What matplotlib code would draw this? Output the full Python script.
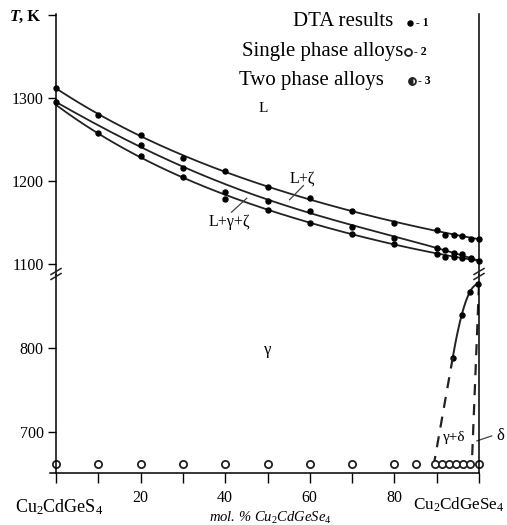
import numpy as np
import matplotlib
matplotlib.use("Agg")
import matplotlib.pyplot as plt
from matplotlib.lines import Line2D

plt.rcParams['font.family'] = ['Liberation Serif', 'DejaVu Serif']
plt.rcParams['mathtext.fontset'] = 'custom'
plt.rcParams['mathtext.rm'] = 'Liberation Serif'
plt.rcParams['mathtext.it'] = 'Liberation Serif:italic'

# ---------------- data ----------------
# liquidus / solidus lines
line_x = [0, 5, 10, 20, 30, 40, 50, 60, 70, 80, 90, 100]
line_A = [1312, 1295, 1280, 1255, 1231, 1211, 1193, 1178, 1164, 1151, 1140, 1130]
line_B = [1296, 1280, 1266, 1242, 1218, 1196, 1177, 1162, 1147, 1133, 1120, 1104]
line_C = [1293, 1272, 1256, 1230, 1205, 1183, 1165, 1150, 1136, 1124, 1113, 1104]

# DTA points
dta_A_x = [0, 10, 20, 30, 40, 50, 60, 70, 80, 90, 92, 94, 96, 98, 100]
dta_A_T = [1312, 1280, 1255, 1228, 1212, 1193, 1180, 1164, 1150, 1141, 1135, 1135, 1134, 1130, 1130]
dta_B_x = [0, 20, 30, 40, 50, 60, 70, 80, 90, 92, 94, 96, 98, 100]
dta_B_T = [1295, 1243, 1216, 1187, 1176, 1164, 1145, 1132, 1120, 1117, 1114, 1112, 1108, 1104]
dta_C_x = [10, 20, 30, 40, 50, 60, 70, 80, 90, 92, 94, 96, 98]
dta_C_T = [1258, 1230, 1205, 1179, 1165, 1150, 1136, 1124, 1112, 1109, 1109, 1107, 1106]

# solvus of gamma (lower part)
solv_x = [93.8, 95.9, 97.9, 99.7]
solv_T = [789, 840, 868, 877]
# dashed boundaries
dash_left_x = [93.8, 89.3]
dash_left_T = [789, 660]
dash_right_x = [100, 98.3]
dash_right_T = [877, 660]

# single phase alloys (annealed)
alloy_x = [0, 10, 20, 30, 40, 50, 60, 70, 80, 85, 89.5, 91.2, 92.9, 94.6, 96.2, 97.9, 100]
alloy_T = [661] * len(alloy_x)

xticks = [0, 10, 20, 30, 40, 50, 60, 70, 80, 90, 100]
xticklabels = ['', '', '20', '', '40', '', '60', '', '80', '', '']

# ---------------- figure ----------------
W, H = 507, 525
fig = plt.figure(figsize=(W / 100, H / 100), dpi=100)

def fx(px):
    return px / W

def fy(py):
    return 1 - py / H

xl, xr = 50.1, 479
ax_u = fig.add_axes([fx(xl), fy(275), (xr - xl) / W, (275 - 14) / H])
ax_l = fig.add_axes([fx(xl), fy(473), (xr - xl) / W, (473 - 275) / H])

lw_sp = 1.1
for ax in (ax_u, ax_l):
    ax.set_xlim(-1.4, 100)
    ax.spines['left'].set_position(('data', 0))
    ax.spines['top'].set_visible(False)
    for s in ax.spines.values():
        s.set_linewidth(lw_sp)
    ax.tick_params(axis='y', direction='out', length=6, width=1, labelsize=11.5, pad=3, right=False)
    ax.patch.set_alpha(0)

ax_u.set_ylim(1087, 1401)
ax_u.spines['bottom'].set_visible(False)
ax_u.set_xticks([])
ax_u.set_yticks([1100, 1200, 1300, 1400])
ax_u.set_yticklabels(['1100', '1200', '1300', ''])

ax_l.set_ylim(650.5, 888)
ax_l.set_yticks([700, 800])
ax_l.set_xticks(xticks)
ax_l.set_xticklabels(xticklabels)
ax_l.tick_params(axis='x', direction='out', length=7, width=1, labelsize=11.5, pad=5)

# curves (smoothed)
xs = np.linspace(0, 100, 300)
for arr in (line_A, line_B, line_C):
    c = np.polyfit(line_x, arr, 4)
    ax_u.plot(xs, np.polyval(c, xs), color='#222222', lw=1.3)

ms = 3.6
ax_u.plot(dta_A_x, dta_A_T, 'o', color='black', ms=ms, clip_on=False)
ax_u.plot(dta_B_x, dta_B_T, 'o', color='black', ms=ms, clip_on=False)
ax_u.plot(dta_C_x, dta_C_T, 'o', color='black', ms=ms, clip_on=False)

# lower part
cs = np.polyfit(solv_x, solv_T, 2)
xs2 = np.linspace(solv_x[0], 100, 100)
ax_l.plot(xs2, np.polyval(cs, xs2), color='#222222', lw=1.4)
ax_l.plot(solv_x, solv_T, 'o', color='black', ms=ms, clip_on=False)
ax_l.plot(dash_left_x, dash_left_T, color='#222222', lw=1.6, dashes=(5, 4))
ax_l.plot(dash_right_x, dash_right_T, color='#222222', lw=1.6, dashes=(5, 4))
ax_l.plot(alloy_x, alloy_T, 'o', mfc='white', mec='#222222', mew=1.3, ms=5.2, clip_on=False)

# region labels
ax_u.text(49, 1287, 'L', fontsize=11, ha='center', va='center')
ax_u.text(58.3, 1203, 'L+ζ', fontsize=11.5, ha='center', va='center')
ax_u.plot([58.5, 55.2], [1194.6, 1177.5], color='#444444', lw=0.9)
ax_u.text(41.1, 1150.7, 'L+γ+ζ', fontsize=11.5, ha='center', va='center')
ax_u.plot([45.1, 41.5], [1179.4, 1162.6], color='#444444', lw=0.9)
ax_l.text(50.1, 798, 'γ', fontsize=12, ha='center', va='center')
ax_l.text(94.1, 692.5, 'γ+δ', fontsize=11, ha='center', va='center')
ax_l.plot([99.5, 103], [689, 695], color='#444444', lw=0.9, clip_on=False)
fig.text(fx(500), fy(436), 'δ', fontsize=12, ha='center', va='center')

# axis title and compound labels
fig.text(fx(10), fy(17), 'T', fontsize=12, fontweight='bold', style='italic', ha='left', va='center')
fig.text(fx(19), fy(17), ', K', fontsize=12, fontweight='bold', ha='left', va='center')
fig.text(fx(59), fy(507), r'Cu$_2$CdGeS$_4$', fontsize=13, ha='center', va='center')
fig.text(fx(505), fy(505), r'Cu$_2$CdGeSe$_4$', fontsize=12.3, ha='right', va='center')
fig.text(fx(270), fy(518), r'mol. % Cu$_2$CdGeSe$_4$', fontsize=10.5, style='italic',
         ha='center', va='center')

# legend
leg = [('DTA results', 393, 22, dict(marker='o', ms=3.6, mfc='black', mec='black'), 410, '- 1'),
       ('Single phase alloys', 403, 51, dict(marker='o', ms=5, mfc='white', mec='#222222', mew=1.3), 408, '- 2'),
       ('Two phase alloys', 384, 80, dict(marker='o', ms=5, fillstyle='left', color='#222222',
                                          markerfacecoloralt='white', mew=1.3), 412, '- 3')]
for txt, tx, ty, mk, mx, num in leg:
    fig.text(fx(tx), fy(ty), txt, fontsize=15, ha='right', va='center')
    fig.add_artist(Line2D([fx(mx)], [fy(ty + 1)], transform=fig.transFigure, linestyle='none', **mk))
    fig.text(fx(mx + 6), fy(ty + 1), num, fontsize=8.5, fontweight='bold', ha='left', va='center')

# axis break marks
for bx in (56, 479):
    for dy in (-2.5, 2.5):
        fig.add_artist(Line2D([fx(bx - 5), fx(bx + 5)], [fy(277 + dy), fy(271 + dy)],
                              transform=fig.transFigure, color='#222222', lw=1.1))

fig.savefig('out.png', dpi=100)
